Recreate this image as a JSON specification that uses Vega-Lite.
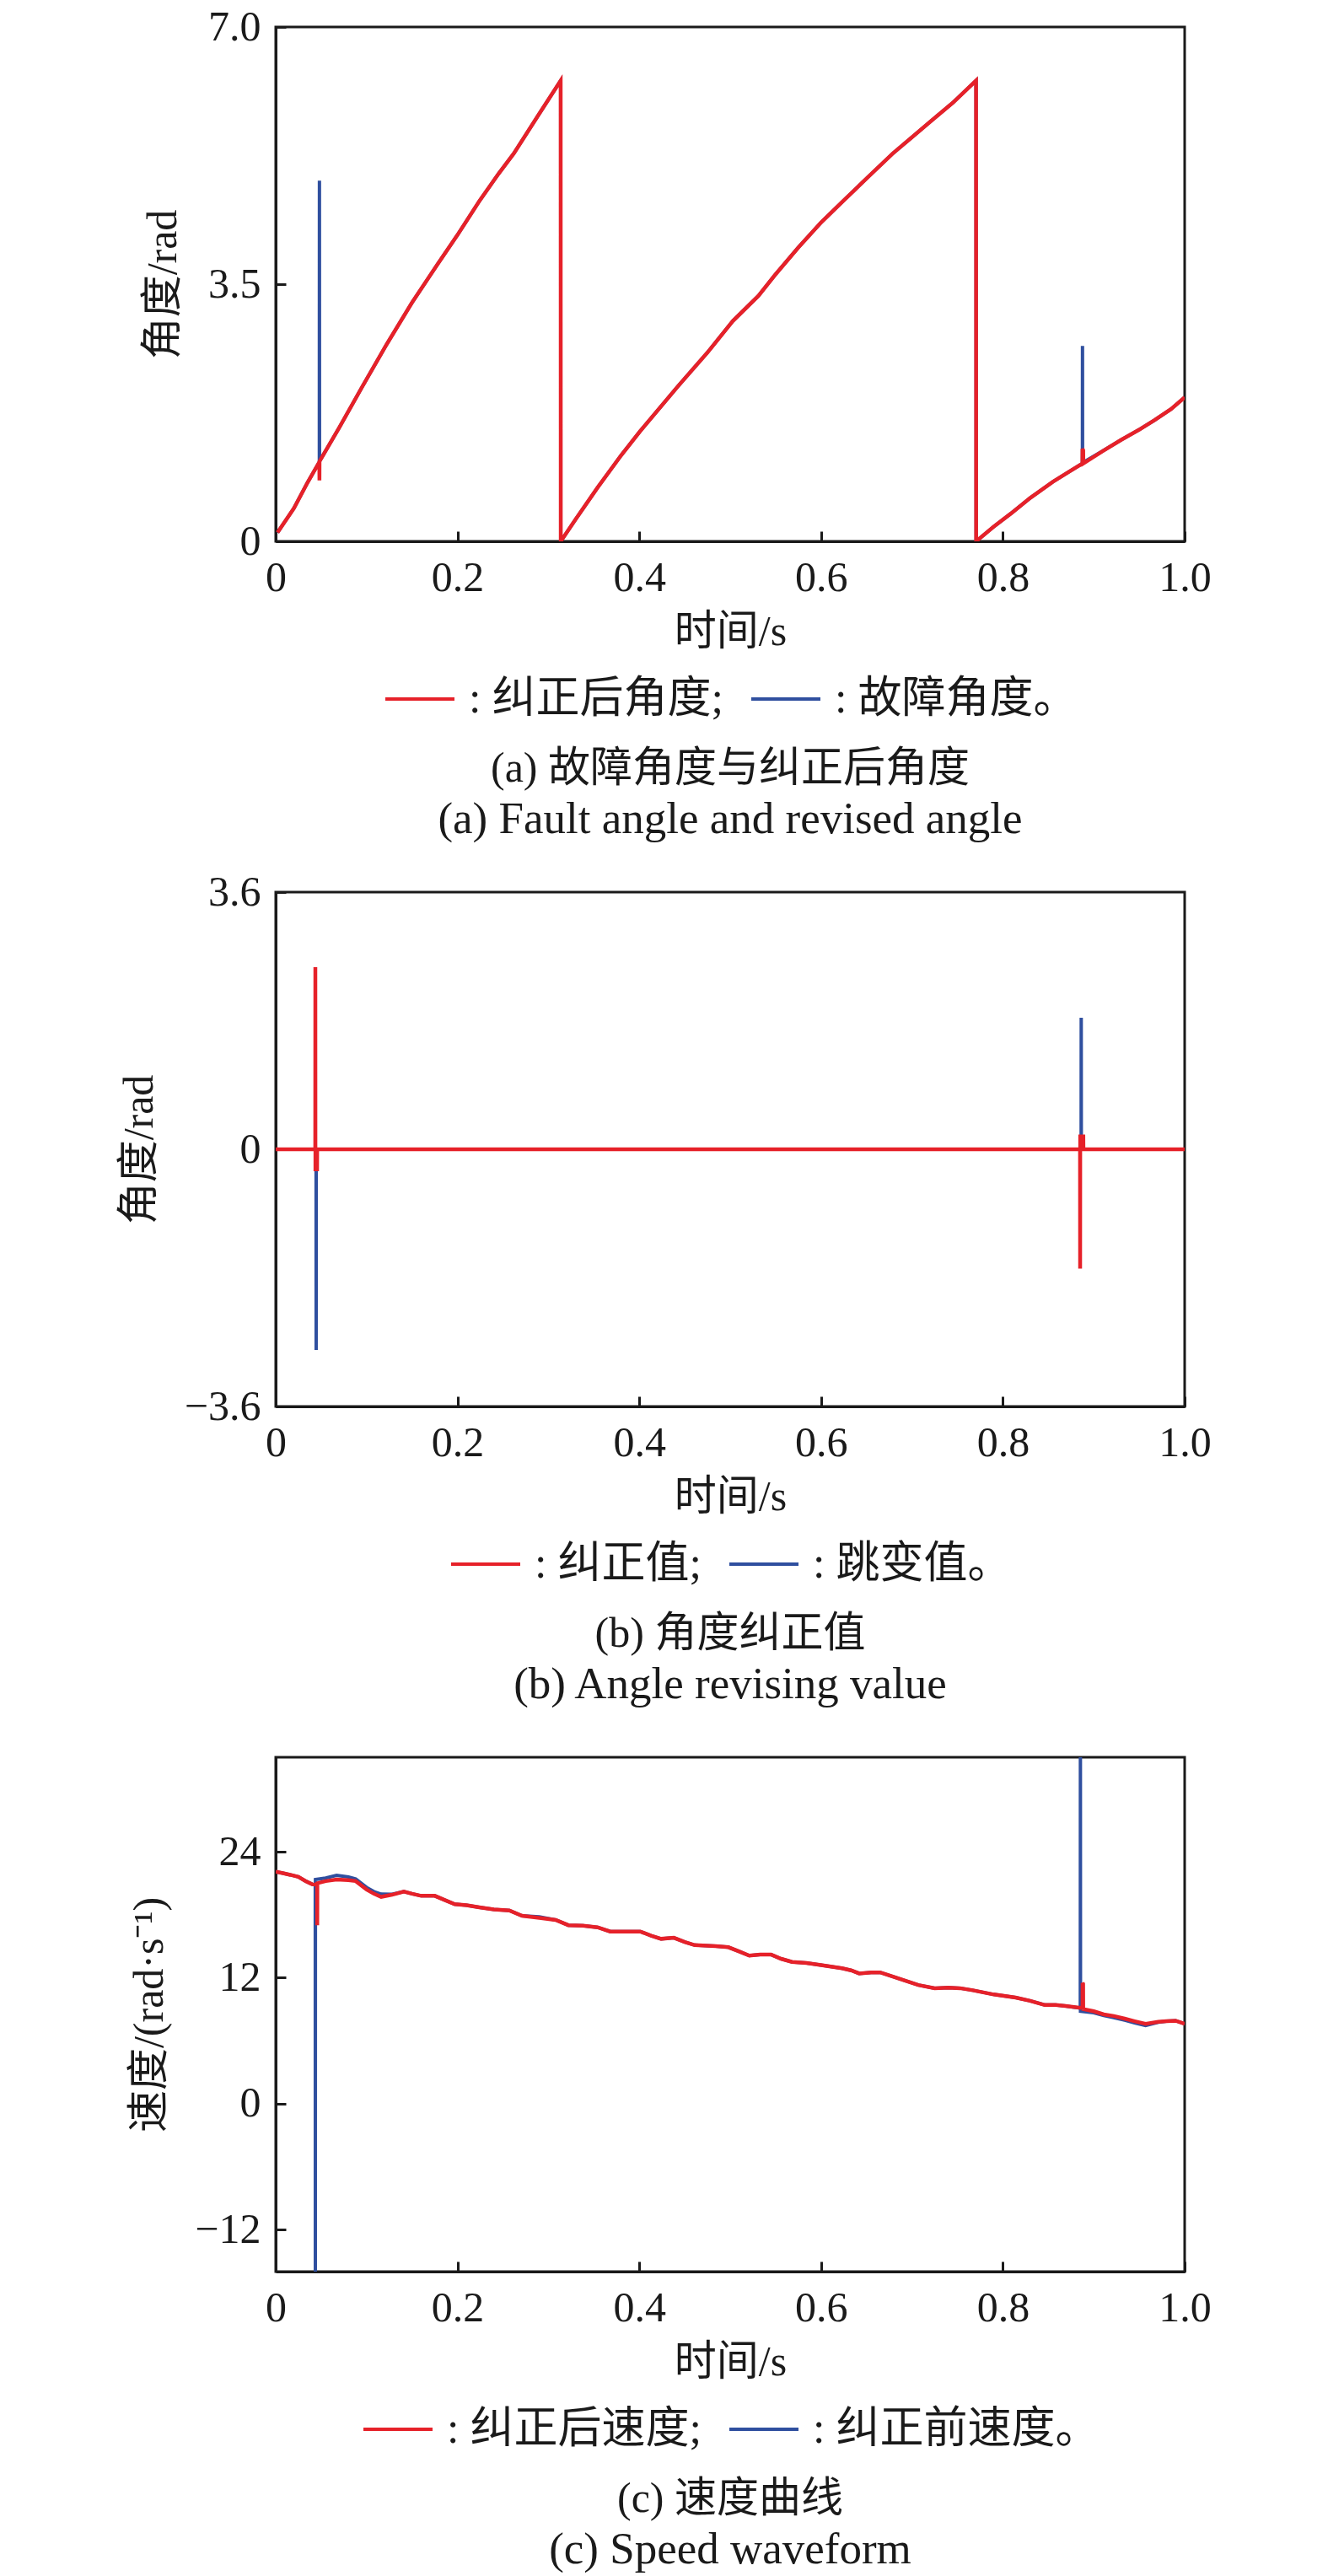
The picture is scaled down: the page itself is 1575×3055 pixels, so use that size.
{
  "$schema": "https://vega.github.io/schema/vega-lite/v6.json",
  "padding": {"left": 138, "top": 5, "right": 130, "bottom": 5},
  "background": "white",
  "spacing": 416,
  "bounds": "flush",
  "resolve": {"scale": {"x": "independent", "y": "independent", "color": "independent"}, "legend": {"color": "independent"}},
  "datasets": {
    "a": [
      {"t":0.002,"v":0.12,"s":"故障角度"},{"t":0.02,"v":0.45,"s":"故障角度"},{"t":0.035,"v":0.8,"s":"故障角度"},{"t":0.048,"v":1.08,"s":"故障角度"},{"t":0.0481,"v":4.91,"s":"故障角度"},{"t":0.0482,"v":1.09,"s":"故障角度"},{"t":0.07,"v":1.55,"s":"故障角度"},{"t":0.095,"v":2.1,"s":"故障角度"},{"t":0.122,"v":2.68,"s":"故障角度"},{"t":0.15,"v":3.25,"s":"故障角度"},{"t":0.178,"v":3.77,"s":"故障角度"},{"t":0.2,"v":4.17,"s":"故障角度"},{"t":0.224,"v":4.63,"s":"故障角度"},{"t":0.245,"v":5.0,"s":"故障角度"},{"t":0.262,"v":5.28,"s":"故障角度"},{"t":0.29,"v":5.82,"s":"故障角度"},{"t":0.3135,"v":6.27,"s":"故障角度"},{"t":0.3136,"v":0.0,"s":"故障角度"},{"t":0.33,"v":0.3,"s":"故障角度"},{"t":0.354,"v":0.73,"s":"故障角度"},{"t":0.38,"v":1.17,"s":"故障角度"},{"t":0.401,"v":1.5,"s":"故障角度"},{"t":0.4425,"v":2.11,"s":"故障角度"},{"t":0.475,"v":2.57,"s":"故障角度"},{"t":0.503,"v":3.0,"s":"故障角度"},{"t":0.531,"v":3.34,"s":"故障角度"},{"t":0.549,"v":3.62,"s":"故障角度"},{"t":0.575,"v":4.0,"s":"故障角度"},{"t":0.6,"v":4.34,"s":"故障角度"},{"t":0.625,"v":4.64,"s":"故障角度"},{"t":0.651,"v":4.95,"s":"故障角度"},{"t":0.679,"v":5.28,"s":"故障角度"},{"t":0.7,"v":5.5,"s":"故障角度"},{"t":0.721,"v":5.72,"s":"故障角度"},{"t":0.745,"v":5.97,"s":"故障角度"},{"t":0.7705,"v":6.27,"s":"故障角度"},{"t":0.7706,"v":0.0,"s":"故障角度"},{"t":0.79,"v":0.2,"s":"故障角度"},{"t":0.809,"v":0.38,"s":"故障角度"},{"t":0.83,"v":0.59,"s":"故障角度"},{"t":0.855,"v":0.81,"s":"故障角度"},{"t":0.8875,"v":1.06,"s":"故障角度"},{"t":0.8876,"v":2.66,"s":"故障角度"},{"t":0.8877,"v":1.07,"s":"故障角度"},{"t":0.91,"v":1.23,"s":"故障角度"},{"t":0.93,"v":1.38,"s":"故障角度"},{"t":0.95,"v":1.52,"s":"故障角度"},{"t":0.967,"v":1.65,"s":"故障角度"},{"t":0.985,"v":1.8,"s":"故障角度"},{"t":1.0,"v":1.96,"s":"故障角度"},
      {"t":0.002,"v":0.12,"s":"纠正后角度"},{"t":0.02,"v":0.45,"s":"纠正后角度"},{"t":0.035,"v":0.8,"s":"纠正后角度"},{"t":0.048,"v":1.08,"s":"纠正后角度"},{"t":0.0481,"v":0.83,"s":"纠正后角度"},{"t":0.0482,"v":1.09,"s":"纠正后角度"},{"t":0.07,"v":1.55,"s":"纠正后角度"},{"t":0.095,"v":2.1,"s":"纠正后角度"},{"t":0.122,"v":2.68,"s":"纠正后角度"},{"t":0.15,"v":3.25,"s":"纠正后角度"},{"t":0.178,"v":3.77,"s":"纠正后角度"},{"t":0.2,"v":4.17,"s":"纠正后角度"},{"t":0.224,"v":4.63,"s":"纠正后角度"},{"t":0.245,"v":5.0,"s":"纠正后角度"},{"t":0.262,"v":5.28,"s":"纠正后角度"},{"t":0.29,"v":5.82,"s":"纠正后角度"},{"t":0.3135,"v":6.27,"s":"纠正后角度"},{"t":0.3136,"v":0.0,"s":"纠正后角度"},{"t":0.33,"v":0.3,"s":"纠正后角度"},{"t":0.354,"v":0.73,"s":"纠正后角度"},{"t":0.38,"v":1.17,"s":"纠正后角度"},{"t":0.401,"v":1.5,"s":"纠正后角度"},{"t":0.4425,"v":2.11,"s":"纠正后角度"},{"t":0.475,"v":2.57,"s":"纠正后角度"},{"t":0.503,"v":3.0,"s":"纠正后角度"},{"t":0.531,"v":3.34,"s":"纠正后角度"},{"t":0.549,"v":3.62,"s":"纠正后角度"},{"t":0.575,"v":4.0,"s":"纠正后角度"},{"t":0.6,"v":4.34,"s":"纠正后角度"},{"t":0.625,"v":4.64,"s":"纠正后角度"},{"t":0.651,"v":4.95,"s":"纠正后角度"},{"t":0.679,"v":5.28,"s":"纠正后角度"},{"t":0.7,"v":5.5,"s":"纠正后角度"},{"t":0.721,"v":5.72,"s":"纠正后角度"},{"t":0.745,"v":5.97,"s":"纠正后角度"},{"t":0.7705,"v":6.27,"s":"纠正后角度"},{"t":0.7706,"v":0.0,"s":"纠正后角度"},{"t":0.79,"v":0.2,"s":"纠正后角度"},{"t":0.809,"v":0.38,"s":"纠正后角度"},{"t":0.83,"v":0.59,"s":"纠正后角度"},{"t":0.855,"v":0.81,"s":"纠正后角度"},{"t":0.8875,"v":1.06,"s":"纠正后角度"},{"t":0.8876,"v":1.26,"s":"纠正后角度"},{"t":0.8884,"v":1.24,"s":"纠正后角度"},{"t":0.8885,"v":1.06,"s":"纠正后角度"},{"t":0.91,"v":1.23,"s":"纠正后角度"},{"t":0.93,"v":1.38,"s":"纠正后角度"},{"t":0.95,"v":1.52,"s":"纠正后角度"},{"t":0.967,"v":1.65,"s":"纠正后角度"},{"t":0.985,"v":1.8,"s":"纠正后角度"},{"t":1.0,"v":1.96,"s":"纠正后角度"}
    ],
    "b": [
      {"t":0,"v":0,"s":"跳变值"},{"t":0.0444,"v":0,"s":"跳变值"},{"t":0.0445,"v":-2.81,"s":"跳变值"},{"t":0.0446,"v":0,"s":"跳变值"},{"t":0.5,"v":0,"s":"跳变值"},{"t":0.8861,"v":0,"s":"跳变值"},{"t":0.8862,"v":1.84,"s":"跳变值"},{"t":0.8863,"v":0,"s":"跳变值"},{"t":1.0,"v":0,"s":"跳变值"},
      {"t":0,"v":0,"s":"纠正值"},{"t":0.0435,"v":0,"s":"纠正值"},{"t":0.0436,"v":2.55,"s":"纠正值"},{"t":0.0437,"v":-0.28,"s":"纠正值"},{"t":0.0455,"v":-0.28,"s":"纠正值"},{"t":0.0456,"v":0,"s":"纠正值"},{"t":0.3,"v":0,"s":"纠正值"},{"t":0.6,"v":0,"s":"纠正值"},{"t":0.8849,"v":0,"s":"纠正值"},{"t":0.885,"v":-1.67,"s":"纠正值"},{"t":0.8851,"v":0.18,"s":"纠正值"},{"t":0.8885,"v":0.18,"s":"纠正值"},{"t":0.8886,"v":0,"s":"纠正值"},{"t":1.0,"v":0,"s":"纠正值"}
    ],
    "c": [
      {"t":0,"v":22.1,"s":"纠正前速度"},{"t":0.008,"v":21.95,"s":"纠正前速度"},{"t":0.016,"v":21.8,"s":"纠正前速度"},{"t":0.025,"v":21.6,"s":"纠正前速度"},{"t":0.033,"v":21.2,"s":"纠正前速度"},{"t":0.04,"v":20.9,"s":"纠正前速度"},{"t":0.0435,"v":20.85,"s":"纠正前速度"},{"t":0.0436,"v":-16.0,"s":"纠正前速度"},{"t":0.0437,"v":21.35,"s":"纠正前速度"},{"t":0.055,"v":21.5,"s":"纠正前速度"},{"t":0.067,"v":21.75,"s":"纠正前速度"},{"t":0.08,"v":21.6,"s":"纠正前速度"},{"t":0.088,"v":21.4,"s":"纠正前速度"},{"t":0.1,"v":20.6,"s":"纠正前速度"},{"t":0.108,"v":20.2,"s":"纠正前速度"},{"t":0.116,"v":19.96,"s":"纠正前速度"},{"t":0.128,"v":19.95,"s":"纠正前速度"},{"t":0.141,"v":20.2,"s":"纠正前速度"},{"t":0.15,"v":20.0,"s":"纠正前速度"},{"t":0.16,"v":19.8,"s":"纠正前速度"},{"t":0.175,"v":19.8,"s":"纠正前速度"},{"t":0.186,"v":19.4,"s":"纠正前速度"},{"t":0.197,"v":19.0,"s":"纠正前速度"},{"t":0.21,"v":18.9,"s":"纠正前速度"},{"t":0.224,"v":18.7,"s":"纠正前速度"},{"t":0.24,"v":18.5,"s":"纠正前速度"},{"t":0.257,"v":18.4,"s":"纠正前速度"},{"t":0.271,"v":17.9,"s":"纠正前速度"},{"t":0.29,"v":17.8,"s":"纠正前速度"},{"t":0.308,"v":17.5,"s":"纠正前速度"},{"t":0.322,"v":17.0,"s":"纠正前速度"},{"t":0.338,"v":16.95,"s":"纠正前速度"},{"t":0.354,"v":16.8,"s":"纠正前速度"},{"t":0.368,"v":16.4,"s":"纠正前速度"},{"t":0.385,"v":16.4,"s":"纠正前速度"},{"t":0.401,"v":16.4,"s":"纠正前速度"},{"t":0.413,"v":16.0,"s":"纠正前速度"},{"t":0.424,"v":15.7,"s":"纠正前速度"},{"t":0.438,"v":15.8,"s":"纠正前速度"},{"t":0.45,"v":15.4,"s":"纠正前速度"},{"t":0.461,"v":15.1,"s":"纠正前速度"},{"t":0.484,"v":15.0,"s":"纠正前速度"},{"t":0.498,"v":14.9,"s":"纠正前速度"},{"t":0.51,"v":14.5,"s":"纠正前速度"},{"t":0.521,"v":14.1,"s":"纠正前速度"},{"t":0.533,"v":14.2,"s":"纠正前速度"},{"t":0.545,"v":14.2,"s":"纠正前速度"},{"t":0.556,"v":13.8,"s":"纠正前速度"},{"t":0.568,"v":13.5,"s":"纠正前速度"},{"t":0.584,"v":13.4,"s":"纠正前速度"},{"t":0.6,"v":13.2,"s":"纠正前速度"},{"t":0.623,"v":12.9,"s":"纠正前速度"},{"t":0.633,"v":12.7,"s":"纠正前速度"},{"t":0.642,"v":12.4,"s":"纠正前速度"},{"t":0.655,"v":12.5,"s":"纠正前速度"},{"t":0.665,"v":12.5,"s":"纠正前速度"},{"t":0.679,"v":12.1,"s":"纠正前速度"},{"t":0.693,"v":11.7,"s":"纠正前速度"},{"t":0.707,"v":11.3,"s":"纠正前速度"},{"t":0.725,"v":11.0,"s":"纠正前速度"},{"t":0.74,"v":11.05,"s":"纠正前速度"},{"t":0.753,"v":11.0,"s":"纠正前速度"},{"t":0.767,"v":10.8,"s":"纠正前速度"},{"t":0.79,"v":10.4,"s":"纠正前速度"},{"t":0.814,"v":10.1,"s":"纠正前速度"},{"t":0.83,"v":9.8,"s":"纠正前速度"},{"t":0.846,"v":9.4,"s":"纠正前速度"},{"t":0.858,"v":9.4,"s":"纠正前速度"},{"t":0.869,"v":9.3,"s":"纠正前速度"},{"t":0.8852,"v":9.1,"s":"纠正前速度"},{"t":0.8853,"v":33.0,"s":"纠正前速度"},{"t":0.8854,"v":8.8,"s":"纠正前速度"},{"t":0.9,"v":8.65,"s":"纠正前速度"},{"t":0.911,"v":8.4,"s":"纠正前速度"},{"t":0.922,"v":8.2,"s":"纠正前速度"},{"t":0.934,"v":7.95,"s":"纠正前速度"},{"t":0.945,"v":7.7,"s":"纠正前速度"},{"t":0.957,"v":7.45,"s":"纠正前速度"},{"t":0.971,"v":7.75,"s":"纠正前速度"},{"t":0.98,"v":7.85,"s":"纠正前速度"},{"t":0.99,"v":7.9,"s":"纠正前速度"},{"t":1.0,"v":7.6,"s":"纠正前速度"},
      {"t":0,"v":22.1,"s":"纠正后速度"},{"t":0.008,"v":21.95,"s":"纠正后速度"},{"t":0.016,"v":21.8,"s":"纠正后速度"},{"t":0.025,"v":21.6,"s":"纠正后速度"},{"t":0.033,"v":21.2,"s":"纠正后速度"},{"t":0.04,"v":20.9,"s":"纠正后速度"},{"t":0.0456,"v":20.85,"s":"纠正后速度"},{"t":0.0457,"v":17.0,"s":"纠正后速度"},{"t":0.0458,"v":21.0,"s":"纠正后速度"},{"t":0.055,"v":21.2,"s":"纠正后速度"},{"t":0.067,"v":21.35,"s":"纠正后速度"},{"t":0.08,"v":21.3,"s":"纠正后速度"},{"t":0.088,"v":21.2,"s":"纠正后速度"},{"t":0.1,"v":20.4,"s":"纠正后速度"},{"t":0.108,"v":20.0,"s":"纠正后速度"},{"t":0.116,"v":19.7,"s":"纠正后速度"},{"t":0.128,"v":19.9,"s":"纠正后速度"},{"t":0.141,"v":20.2,"s":"纠正后速度"},{"t":0.15,"v":20.0,"s":"纠正后速度"},{"t":0.16,"v":19.8,"s":"纠正后速度"},{"t":0.175,"v":19.8,"s":"纠正后速度"},{"t":0.186,"v":19.4,"s":"纠正后速度"},{"t":0.197,"v":19.0,"s":"纠正后速度"},{"t":0.21,"v":18.9,"s":"纠正后速度"},{"t":0.224,"v":18.7,"s":"纠正后速度"},{"t":0.24,"v":18.5,"s":"纠正后速度"},{"t":0.257,"v":18.4,"s":"纠正后速度"},{"t":0.271,"v":17.9,"s":"纠正后速度"},{"t":0.29,"v":17.7,"s":"纠正后速度"},{"t":0.308,"v":17.5,"s":"纠正后速度"},{"t":0.322,"v":17.0,"s":"纠正后速度"},{"t":0.338,"v":16.95,"s":"纠正后速度"},{"t":0.354,"v":16.8,"s":"纠正后速度"},{"t":0.368,"v":16.4,"s":"纠正后速度"},{"t":0.385,"v":16.4,"s":"纠正后速度"},{"t":0.401,"v":16.4,"s":"纠正后速度"},{"t":0.413,"v":16.0,"s":"纠正后速度"},{"t":0.424,"v":15.7,"s":"纠正后速度"},{"t":0.438,"v":15.8,"s":"纠正后速度"},{"t":0.45,"v":15.4,"s":"纠正后速度"},{"t":0.461,"v":15.1,"s":"纠正后速度"},{"t":0.484,"v":15.0,"s":"纠正后速度"},{"t":0.498,"v":14.9,"s":"纠正后速度"},{"t":0.51,"v":14.5,"s":"纠正后速度"},{"t":0.521,"v":14.1,"s":"纠正后速度"},{"t":0.533,"v":14.2,"s":"纠正后速度"},{"t":0.545,"v":14.2,"s":"纠正后速度"},{"t":0.556,"v":13.8,"s":"纠正后速度"},{"t":0.568,"v":13.5,"s":"纠正后速度"},{"t":0.584,"v":13.4,"s":"纠正后速度"},{"t":0.6,"v":13.2,"s":"纠正后速度"},{"t":0.623,"v":12.9,"s":"纠正后速度"},{"t":0.633,"v":12.7,"s":"纠正后速度"},{"t":0.642,"v":12.4,"s":"纠正后速度"},{"t":0.655,"v":12.5,"s":"纠正后速度"},{"t":0.665,"v":12.5,"s":"纠正后速度"},{"t":0.679,"v":12.1,"s":"纠正后速度"},{"t":0.693,"v":11.7,"s":"纠正后速度"},{"t":0.707,"v":11.3,"s":"纠正后速度"},{"t":0.725,"v":11.0,"s":"纠正后速度"},{"t":0.74,"v":11.05,"s":"纠正后速度"},{"t":0.753,"v":11.0,"s":"纠正后速度"},{"t":0.767,"v":10.8,"s":"纠正后速度"},{"t":0.79,"v":10.4,"s":"纠正后速度"},{"t":0.814,"v":10.1,"s":"纠正后速度"},{"t":0.83,"v":9.8,"s":"纠正后速度"},{"t":0.846,"v":9.4,"s":"纠正后速度"},{"t":0.858,"v":9.4,"s":"纠正后速度"},{"t":0.869,"v":9.3,"s":"纠正后速度"},{"t":0.8876,"v":9.1,"s":"纠正后速度"},{"t":0.8877,"v":11.5,"s":"纠正后速度"},{"t":0.8883,"v":11.4,"s":"纠正后速度"},{"t":0.8884,"v":9.0,"s":"纠正后速度"},{"t":0.9,"v":8.8,"s":"纠正后速度"},{"t":0.911,"v":8.5,"s":"纠正后速度"},{"t":0.922,"v":8.35,"s":"纠正后速度"},{"t":0.934,"v":8.1,"s":"纠正后速度"},{"t":0.945,"v":7.85,"s":"纠正后速度"},{"t":0.957,"v":7.6,"s":"纠正后速度"},{"t":0.971,"v":7.8,"s":"纠正后速度"},{"t":0.98,"v":7.85,"s":"纠正后速度"},{"t":0.99,"v":7.9,"s":"纠正后速度"},{"t":1.0,"v":7.6,"s":"纠正后速度"}
    ]
  },
  "vconcat": [
    {
      "width": 1078, "height": 610,
      "data": {"name": "a"},
      "title": {"text": "(a) 故障角度与纠正后角度", "subtitle": "(a) Fault angle and revised angle"},
      "encoding": {
        "x": {"field": "t", "type": "quantitative", "scale": {"domain": [0, 1], "nice": false, "zero": false},
              "axis": {"title": "时间/s", "values": [0, 0.2, 0.4, 0.6, 0.8, 1.0], "labelExpr": "datum.value == 0 ? '0' : format(datum.value, '.1f')"}},
        "y": {"field": "v", "type": "quantitative", "scale": {"domain": [0, 7], "nice": false, "zero": false},
              "axis": {"title": "角度/rad", "values": [0, 3.5, 7], "labelExpr": "datum.value == 0 ? '0' : format(datum.value, '.1f')"}},
        "color": {"field": "s", "type": "nominal", "scale": {"domain": ["纠正后角度", "故障角度"], "range": ["#e62129", "#2f4f9f"]},
                  "legend": {"title": null, "labelExpr": "datum.label == '纠正后角度' ? ': 纠正后角度;' : ': 故障角度。'"}}
      },
      "layer": [
        {"transform": [{"filter": "datum.s == '故障角度'"}], "mark": {"type": "line", "strokeWidth": 4, "clip": true}},
        {"transform": [{"filter": "datum.s == '纠正后角度'"}], "mark": {"type": "line", "strokeWidth": 4.5, "clip": true}}
      ]
    },
    {
      "width": 1078, "height": 610,
      "data": {"name": "b"},
      "title": {"text": "(b) 角度纠正值", "subtitle": "(b) Angle revising value"},
      "encoding": {
        "x": {"field": "t", "type": "quantitative", "scale": {"domain": [0, 1], "nice": false, "zero": false},
              "axis": {"title": "时间/s", "values": [0, 0.2, 0.4, 0.6, 0.8, 1.0], "labelExpr": "datum.value == 0 ? '0' : format(datum.value, '.1f')"}},
        "y": {"field": "v", "type": "quantitative", "scale": {"domain": [-3.6, 3.6], "nice": false, "zero": false},
              "axis": {"title": "角度/rad", "values": [-3.6, 0, 3.6], "labelExpr": "datum.value == 0 ? '0' : format(datum.value, '.1f')"}},
        "color": {"field": "s", "type": "nominal", "scale": {"domain": ["纠正值", "跳变值"], "range": ["#e62129", "#2f4f9f"]},
                  "legend": {"title": null, "labelExpr": "datum.label == '纠正值' ? ': 纠正值;' : ': 跳变值。'"}}
      },
      "layer": [
        {"transform": [{"filter": "datum.s == '跳变值'"}], "mark": {"type": "line", "strokeWidth": 4, "clip": true}},
        {"transform": [{"filter": "datum.s == '纠正值'"}], "mark": {"type": "line", "strokeWidth": 4.5, "clip": true}}
      ]
    },
    {
      "width": 1078, "height": 610,
      "data": {"name": "c"},
      "title": {"text": "(c) 速度曲线", "subtitle": "(c) Speed waveform"},
      "encoding": {
        "x": {"field": "t", "type": "quantitative", "scale": {"domain": [0, 1], "nice": false, "zero": false},
              "axis": {"title": "时间/s", "values": [0, 0.2, 0.4, 0.6, 0.8, 1.0], "labelExpr": "datum.value == 0 ? '0' : format(datum.value, '.1f')"}},
        "y": {"field": "v", "type": "quantitative", "scale": {"domain": [-16, 33], "nice": false, "zero": false},
              "axis": {"title": "速度/(rad·s⁻¹)", "values": [-12, 0, 12, 24], "labelExpr": "format(datum.value, 'd')"}},
        "color": {"field": "s", "type": "nominal", "scale": {"domain": ["纠正后速度", "纠正前速度"], "range": ["#e62129", "#2f4f9f"]},
                  "legend": {"title": null, "labelExpr": "datum.label == '纠正后速度' ? ': 纠正后速度;' : ': 纠正前速度。'"}}
      },
      "layer": [
        {"transform": [{"filter": "datum.s == '纠正前速度'"}], "mark": {"type": "line", "strokeWidth": 4, "clip": true}},
        {"transform": [{"filter": "datum.s == '纠正后速度'"}], "mark": {"type": "line", "strokeWidth": 4.5, "clip": true}}
      ]
    }
  ],
  "config": {
    "font": "Liberation Serif, Noto Sans CJK SC",
    "view": {"stroke": "#1a1a1a", "strokeWidth": 3},
    "axis": {
      "grid": false, "domainColor": "#1a1a1a", "domainWidth": 3, "zindex": 1,
      "tickColor": "#1a1a1a", "tickWidth": 3, "tickSize": -12,
      "labelFont": "Liberation Serif, Noto Sans CJK SC", "labelFontSize": 50, "labelColor": "#1a1a1a",
      "labelPadding": 30, "labelFlush": false, "labelOverlap": false,
      "titleFont": "Liberation Serif, Noto Sans CJK SC", "titleFontSize": 50, "titleFontWeight": "normal", "titleColor": "#1a1a1a"
    },
    "axisX": {"titlePadding": 14},
    "axisY": {"titlePadding": 28},
    "legend": {
      "orient": "bottom", "direction": "horizontal", "symbolType": "stroke", "symbolSize": 6724, "symbolStrokeWidth": 4,
      "labelFont": "Liberation Serif, Noto Sans CJK SC", "labelFontSize": 52, "labelColor": "#1a1a1a", "labelLimit": 0,
      "labelOffset": 15, "columnPadding": 25, "offset": 12,
      "layout": {"bottom": {"anchor": "middle"}}
    },
    "title": {
      "orient": "bottom", "anchor": "middle", "frame": "group", "offset": 32,
      "font": "Liberation Serif, Noto Sans CJK SC", "fontSize": 50, "fontWeight": "normal", "color": "#1a1a1a",
      "subtitleFont": "Liberation Serif, Noto Sans CJK SC", "subtitleFontSize": 53, "subtitleColor": "#1a1a1a", "subtitlePadding": 9
    }
  }
}
